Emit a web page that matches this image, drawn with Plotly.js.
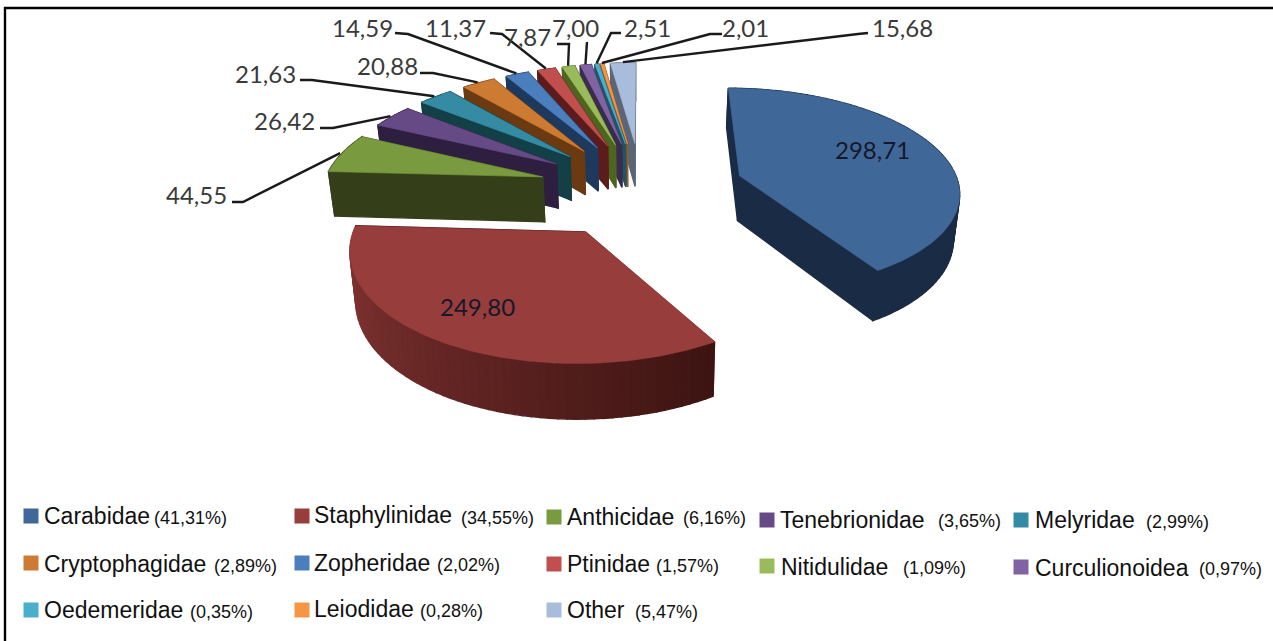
<!DOCTYPE html>
<html><head><meta charset="utf-8">
<script src="https://cdn.plot.ly/plotly-3.0.1.min.js"></script>
<style>html,body{margin:0;padding:0;background:#fff}#c{width:1273px;height:641px}</style>
</head><body><div id="c"></div>
<script>
// ---- data ----
const families = ["Carabidae","Staphylinidae","Anthicidae","Tenebrionidae","Melyridae","Cryptophagidae","Zopheridae","Ptinidae","Nitidulidae","Curculionoidea","Oedemeridae","Leiodidae","Other"];
const values = [298.71,249.80,44.55,26.42,21.63,20.88,14.59,11.37,7.87,7.00,2.51,2.01,15.68];
const valueLabels = ["298,71","249,80","44,55","26,42","21,63","20,88","14,59","11,37","7,87","7,00","2,51","2,01","15,68"];
const percentLabels = ["(41,31%)","(34,55%)","(6,16%)","(3,65%)","(2,99%)","(2,89%)","(2,02%)","(1,57%)","(1,09%)","(0,97%)","(0,35%)","(0,28%)","(5,47%)"];

// ---- styles ----
const topColors = ["#3f6797","#973d3b","#7a9a40","#664a86","#358ba4","#cd7a32","#4a7ebd","#c04f4d","#9abb59","#8063a2","#4baecb","#f59645","#a8bcdc"];
const wallA = ["#1a2c45","#8a3836","#343f19","#2e1f40","#133f47","#6b3a10","#1d3a5e","#5c1c1c","#4e6520","#3a2c4e","#1f5566","#a05a20","#5a6678"];
const wallB = ["#1a2c45","#3d1412","#343f19","#2e1f40","#133f47","#6b3a10","#1d3a5e","#5c1c1c","#4e6520","#3a2c4e","#1f5566","#a05a20","#5a6678"];
const cam = {cx:641.5, cy:188.5, A:220, B:102, k:0.13, E:0.47, D:45.5, bx:0.98};

// value-label layout: text centre, then leader polyline start/elbow
const labelPos = [[872,149],[477,306],[196,194],[284,120],[265,73],[387,65],[362,27],[455,27],[527,36],[575,27],[647,27],[745,27],[902,27]];
const leaderFrom = [null,null,[232,202,243,202],[320,128,333,128],[300,80,312,80],[420,73,433,73],[395,33,408,34],[490,33,502,34],[557,44,569,44],[587,42,587,42],[621,33,611,33],[722,34,710,34],[868,33,858,34]];

// legend layout
const legSquares = [[31,516],[302,516],[554,517],[767,520],[1021,520],[31,563],[302,563],[554,564],[767,566],[1021,567],[31,610],[302,610],[554,610]];
const legText = [[44,516],[314,515],[567,517],[780,520],[1035,520],[44,564],[314,563],[567,564],[781,567],[1035,568],[44,610],[314,609],[567,610]];
const legPct = [[154,518],[461,518],[683,518],[938,521],[1146,522],[214,566],[437,565],[656,566],[903,568],[1199,569],[190,612],[420,611],[635,612]];

// ---- geometry through a simple perspective camera ----
function proj(X,Y,low){
  const w = 1+cam.k*Y;
  let sx = cam.A*X/w;
  if(low) sx *= cam.bx;
  return [cam.cx+sx, cam.cy-cam.B*Y/w+(low?cam.D/w:0)];
}
function hex(c){return [1,3,5].map(i=>parseInt(c.substr(i,2),16));}
function mix(a,b,t){const p=hex(a),q=hex(b);return 'rgb('+p.map((v,i)=>Math.round(v+(q[i]-v)*t)).join(',')+')';}
function poly(pts,color,lw){
  const xs=pts.map(p=>p[0]),ys=pts.map(p=>p[1]);
  xs.push(xs[0]);ys.push(ys[0]);
  return {type:'scatter',mode:'lines',x:xs,y:ys,fill:'toself',fillcolor:color,line:{color:color,width:lw},hoverinfo:'skip',showlegend:false};
}
const total = values.reduce((a,b)=>a+b,0);
let acc=0;
const slices = values.map((v,i)=>{
  const a0=acc/total*2*Math.PI; acc+=v; const a1=acc/total*2*Math.PI; const b=(a0+a1)/2;
  return {i,a0,a1,b,ax:cam.E*Math.sin(b),ay:cam.E*Math.cos(b)};
});
function rim(s,a,r){const q=(r===undefined?1:r);return [s.ax+q*Math.sin(a), s.ay+q*Math.cos(a)];}

const traces=[];
[...slices].sort((p,q)=>q.ay-p.ay).forEach(s=>{
  const n=Math.max(2,Math.ceil((s.a1-s.a0)/0.035));
  const walls=[];
  const A=[s.ax,s.ay], R0=rim(s,s.a0), R1=rim(s,s.a1);
  walls.push({d:(A[1]+R0[1])/2,p:[proj(A[0],A[1]),proj(R0[0],R0[1]),proj(R0[0],R0[1],1),proj(A[0],A[1],1)],c:wallA[s.i]});
  walls.push({d:(A[1]+R1[1])/2,p:[proj(A[0],A[1]),proj(R1[0],R1[1]),proj(R1[0],R1[1],1),proj(A[0],A[1],1)],c:wallB[s.i]});
  for(let j=0;j<n;j++){
    const u=s.a0+(s.a1-s.a0)*j/n, t=s.a0+(s.a1-s.a0)*(j+1)/n;
    const P=rim(s,u),Q=rim(s,t);
    const g=(s.i===1)?1-j/(n-1):j/(n-1);
    walls.push({d:(P[1]+Q[1])/2,p:[proj(P[0],P[1]),proj(Q[0],Q[1]),proj(Q[0],Q[1],1),proj(P[0],P[1],1)],c:mix(wallA[s.i],wallB[s.i],g)});
  }
  walls.sort((p,q)=>q.d-p.d).forEach(w=>traces.push(poly(w.p,w.c,1.4)));
  const top=[proj(A[0],A[1])];
  for(let j=0;j<=n*2;j++){const P=rim(s,s.a0+(s.a1-s.a0)*j/(n*2));top.push(proj(P[0],P[1]));}
  traces.push(poly(top,topColors[s.i],0.6));
});

// leader lines end on the slice rim
slices.forEach(s=>{
  const f=leaderFrom[s.i]; if(!f) return;
  const P=rim(s,s.b,1.01), e=proj(P[0],P[1]);
  traces.push({type:'scatter',mode:'lines',x:[f[0],f[2],e[0]],y:[f[1],f[3],e[1]],line:{color:'#1a1a1a',width:2.4},hoverinfo:'skip',showlegend:false});
});

// legend squares
traces.push({type:'scatter',mode:'markers',x:legSquares.map(p=>p[0]),y:legSquares.map(p=>p[1]),
  marker:{symbol:'square',size:15,color:topColors},hoverinfo:'skip',showlegend:false});

const ann=[];
values.forEach((v,i)=>{
  ann.push({x:labelPos[i][0],y:labelPos[i][1],text:valueLabels[i],showarrow:false,xanchor:'center',yanchor:'middle',
    font:{family:'Lato',size:24,color:i<2?'#16182a':'#3a3a3a'}});
  ann.push({x:legText[i][0],y:legText[i][1],text:families[i],showarrow:false,xanchor:'left',yanchor:'middle',xshift:-2,
    font:{family:'Liberation Sans',size:23,color:'#111'}});
  ann.push({x:legPct[i][0],y:legPct[i][1],text:percentLabels[i],showarrow:false,xanchor:'left',yanchor:'middle',xshift:-2,
    font:{family:'Liberation Sans',size:18,color:'#111'}});
});

const frameLine={color:'#000',width:2.4};
Plotly.newPlot('c',traces,{
  width:1273,height:641,margin:{l:0,r:0,t:0,b:0},paper_bgcolor:'#fff',plot_bgcolor:'#fff',showlegend:false,
  xaxis:{range:[0,1273],visible:false,fixedrange:true},
  yaxis:{range:[641,0],visible:false,fixedrange:true},
  annotations:ann,
  shapes:[
    {type:'line',xref:'x',yref:'y',x0:4,y0:8,x1:1273,y1:8,line:frameLine},
    {type:'line',xref:'x',yref:'y',x0:5,y0:7,x1:5,y1:641,line:frameLine}
  ]
},{displayModeBar:false,staticPlot:true});
</script></body></html>
